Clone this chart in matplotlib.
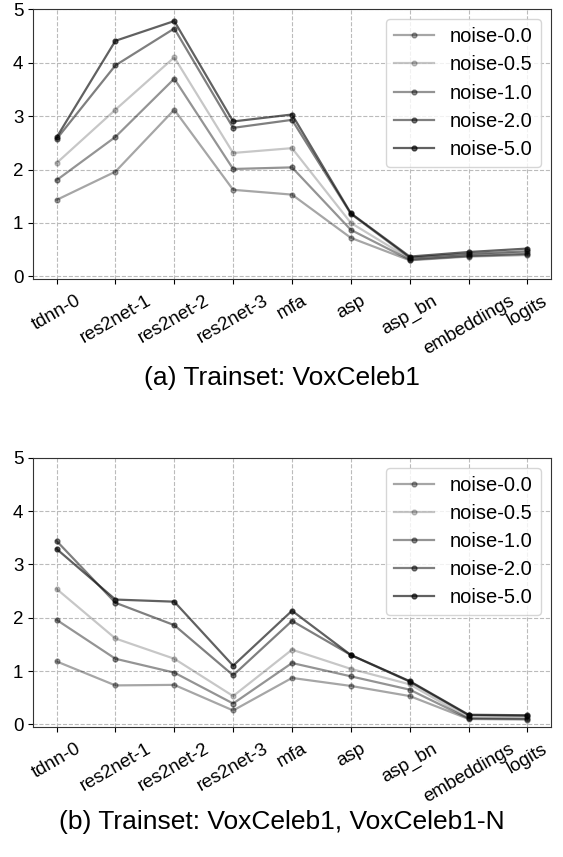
import matplotlib
matplotlib.use('Agg')
import matplotlib.pyplot as plt
import numpy as np

plt.rcParams['font.family'] = ['Liberation Sans', 'DejaVu Sans']

# Layer names on the x axis
layers = ['tdnn-0', 'res2net-1', 'res2net-2', 'res2net-3', 'mfa', 'asp',
          'asp_bn', 'embeddings', 'logits']
noise_labels = ['noise-0.0', 'noise-0.5', 'noise-1.0', 'noise-2.0', 'noise-5.0']

# (a) Trainset: VoxCeleb1
a_noise_00 = [1.43, 1.96, 3.12, 1.62, 1.53, 0.72, 0.30, 0.37, 0.40]
a_noise_05 = [2.12, 3.12, 4.10, 2.31, 2.40, 1.00, 0.33, 0.40, 0.44]
a_noise_10 = [1.80, 2.61, 3.70, 2.01, 2.04, 0.87, 0.31, 0.38, 0.42]
a_noise_20 = [2.57, 3.95, 4.64, 2.78, 2.93, 1.17, 0.35, 0.42, 0.47]
a_noise_50 = [2.60, 4.41, 4.78, 2.90, 3.03, 1.18, 0.37, 0.455, 0.52]

# (b) Trainset: VoxCeleb1, VoxCeleb1-N
b_noise_00 = [1.18, 0.73, 0.74, 0.26, 0.87, 0.72, 0.53, 0.10, 0.09]
b_noise_05 = [2.54, 1.61, 1.23, 0.53, 1.40, 1.04, 0.75, 0.12, 0.12]
b_noise_10 = [1.96, 1.23, 0.97, 0.39, 1.15, 0.90, 0.65, 0.11, 0.10]
b_noise_20 = [3.44, 2.28, 1.86, 0.92, 1.94, 1.30, 0.80, 0.17, 0.16]
b_noise_50 = [3.29, 2.34, 2.30, 1.10, 2.13, 1.30, 0.81, 0.18, 0.17]

alphas = [0.35, 0.22, 0.42, 0.5, 0.62]

fig = plt.figure(figsize=(5.63, 8.57), dpi=100)
ax_a = fig.add_axes([33/563, 1 - 279/857, 518/563, 269.7/857])
ax_b = fig.add_axes([33/563, 1 - 727/857, 518/563, 269.3/857])

x = np.arange(len(layers))
panels = [
    (ax_a, [a_noise_00, a_noise_05, a_noise_10, a_noise_20, a_noise_50]),
    (ax_b, [b_noise_00, b_noise_05, b_noise_10, b_noise_20, b_noise_50]),
]

for ax, series in panels:
    for vals, lab, al in zip(series, noise_labels, alphas):
        ax.plot(x, vals, color='k', alpha=al, marker='o', markersize=3.5,
                linewidth=1.6, label=lab)
    ax.set_ylim(-0.05, 5)
    ax.set_yticks([0, 1, 2, 3, 4, 5])
    ax.set_xticks(x)
    ax.set_xticklabels(layers, rotation=30, ha='center')
    ax.tick_params(labelsize=13.5)
    ax.tick_params(axis='x', pad=6)
    ax.grid(True, linestyle='--', color='#bbbbbb', linewidth=0.8)
    ax.set_axisbelow(True)
    for s in ax.spines.values():
        s.set_color('#333333')
    ax.legend(loc='upper right', fontsize=14.5, labelspacing=0.45)

fig.text(0.5, 1 - 378/857, '(a) Trainset: VoxCeleb1', ha='center', va='center',
         fontsize=19)
fig.text(0.5, 1 - 822/857, '(b) Trainset: VoxCeleb1, VoxCeleb1-N', ha='center',
         va='center', fontsize=19)

fig.savefig('out.png', dpi=100)
